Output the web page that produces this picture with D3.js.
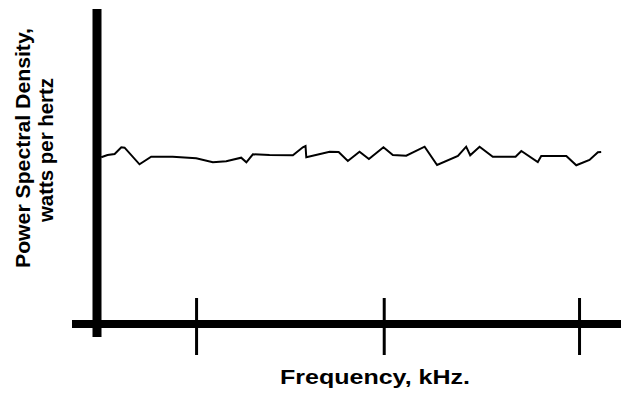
<html>
<head>
<script src="https://cdnjs.cloudflare.com/ajax/libs/d3/7.8.5/d3.min.js"></script>
<style>
body { margin: 0; background: white; }
svg text { font-family: "Liberation Sans", Arial, sans-serif; font-weight: bold; fill: black; }
</style>
</head>
<body>
<svg id="canvas" width="621" height="395"></svg>
<script>
// frequency (kHz) and power spectral density (arbitrary units)
var freqs = [0.502, 0.535, 0.572, 0.607, 0.624, 0.702, 0.763, 0.875, 0.998, 1.085,
             1.155, 1.233, 1.260, 1.294, 1.381, 1.503, 1.555, 1.569, 1.573, 1.695,
             1.742, 1.790, 1.851, 1.900, 1.976, 2.025, 2.095, 2.191, 2.256, 2.365,
             2.408, 2.429, 2.478, 2.547, 2.666, 2.696, 2.782, 2.800, 2.931, 2.983,
             3.052, 3.096, 3.113];
var psd = [5.292, 5.365, 5.397, 5.610, 5.597, 5.070, 5.311, 5.311, 5.260, 5.133,
           5.165, 5.279, 5.133, 5.387, 5.365, 5.356, 5.610, 5.651, 5.292, 5.470,
           5.460, 5.175, 5.470, 5.238, 5.610, 5.365, 5.343, 5.629, 5.048, 5.333,
           5.629, 5.356, 5.629, 5.311, 5.311, 5.492, 5.143, 5.333, 5.333, 5.038,
           5.206, 5.451, 5.460];
var tickFreqs = [1, 1.98, 3];

var svg = d3.select("#canvas");

var x = d3.scaleLinear().domain([0.48, 3.18]).range([97, 614]);
var y = d3.scaleLinear().domain([0, 10]).range([324, 9]);

// the trace
var line = d3.line()
    .x(function(d, i) { return x(freqs[i]); })
    .y(function(d) { return y(d); });

svg.append("path")
    .datum(psd)
    .attr("d", line)
    .attr("fill", "none")
    .attr("stroke", "black")
    .attr("stroke-width", 2);

// x axis: heavy bar with long ticks crossing it
var xAxis = svg.append("g").attr("transform", "translate(0,324)");
xAxis.append("line")
    .attr("x1", 72).attr("x2", 621)
    .attr("stroke", "black").attr("stroke-width", 8);
xAxis.selectAll("line.tick")
    .data(tickFreqs)
    .enter().append("line")
    .classed("tick", true)
    .attr("x1", function(d) { return x(d); })
    .attr("x2", function(d) { return x(d); })
    .attr("y1", -26).attr("y2", 31)
    .attr("stroke", "black").attr("stroke-width", 3);

// y axis bar
svg.append("line")
    .attr("x1", x(0.48)).attr("x2", x(0.48))
    .attr("y1", 9).attr("y2", 337)
    .attr("stroke", "black").attr("stroke-width", 9);

// labels
svg.append("text")
    .attr("x", 280).attr("y", 384)
    .attr("textLength", 190)
    .attr("lengthAdjust", "spacingAndGlyphs")
    .style("font-size", "20px")
    .text("Frequency, kHz.");

var yl = svg.append("g").attr("transform", "rotate(-90)");
yl.append("text")
    .attr("x", -268).attr("y", 30)
    .attr("textLength", 240)
    .attr("lengthAdjust", "spacingAndGlyphs")
    .style("font-size", "20px")
    .text("Power Spectral Density,");
yl.append("text")
    .attr("x", -222).attr("y", 53)
    .attr("textLength", 144)
    .attr("lengthAdjust", "spacingAndGlyphs")
    .style("font-size", "20px")
    .text("watts per hertz");
</script>
</body>
</html>
